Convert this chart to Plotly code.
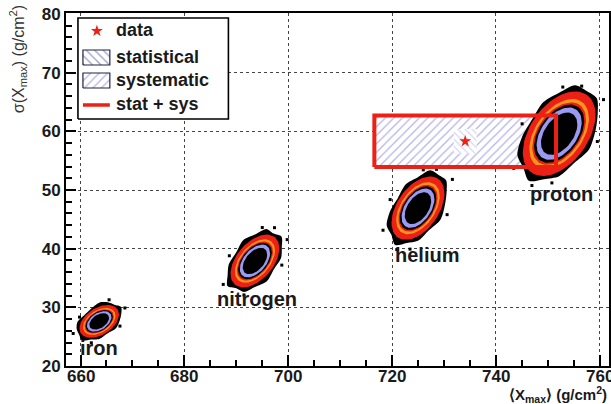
import numpy as np
import plotly.graph_objects as go

# ---- composition clouds: mean Xmax, sigma(Xmax), spreads and correlation ----
species = ["iron", "nitrogen", "helium", "proton"]
mean_xmax = [663.6, 693.6, 725.0, 752.2]
sigma_xmax = [27.6, 37.9, 46.9, 59.6]
spread_x = [3.8, 4.7, 5.1, 7.0]
spread_y = [2.8, 4.5, 5.4, 7.2]
corr = [0.42, 0.48, 0.46, 0.44]

# outline of the simulated-event scatter around each cloud (relative radius per direction)
halo_radius = [
    [1.12, 1.2, 1.08, 1.16, 1.26, 1.12, 1.08, 1.2, 1.14, 1.1, 1.24, 1.1, 1.18, 1.08, 1.2, 1.12],
    [1.1, 1.18, 1.08, 1.22, 1.14, 1.26, 1.1, 1.16, 1.12, 1.22, 1.08, 1.18, 1.12, 1.24, 1.1, 1.16],
    [1.08, 1.15, 1.1, 1.2, 1.1, 1.18, 1.07, 1.14, 1.18, 1.09, 1.22, 1.1, 1.16, 1.08, 1.2, 1.1],
    [1.06, 1.12, 1.07, 1.15, 1.08, 1.13, 1.05, 1.1, 1.15, 1.07, 1.18, 1.08, 1.12, 1.06, 1.16, 1.08],
]
# isolated events outside the dense region (u, v in cloud units)
stray_u = [
    [1.3, -1.32, 0.5, -0.4, 1.05, -1.0],
    [1.32, -1.3, 0.3, -0.45, 1.1, -1.05, 0.8],
    [1.3, -1.32, 0.2, -0.3, 1.1, -1.05, 0.7, -0.8],
    [1.22, -1.25, 0.1, -0.2, 1.05, -1.02, 0.62, -0.75],
]
stray_v = [
    [0.3, -0.2, 1.22, -1.25, -0.8, 0.75],
    [0.2, -0.3, 1.28, -1.22, -0.78, 0.8, 1.0],
    [0.35, -0.1, 1.26, -1.3, -0.8, 0.85, 1.02, -1.06],
    [0.3, -0.3, 1.18, -1.2, -0.72, 0.76, 0.95, -1.0],
]

# ---- measurement ----
data_x, data_y = 734.1, 58.3
stat_x, stat_y = 2.2, 2.1
sys_x, sys_y = 17.5, 4.4

x_range = [657.2, 761.8]
y_range = [20.0, 80.17]
x_ticks = [660, 680, 700, 720, 740, 760]

RED = "#ec2014"
ORANGE = "#f7961c"
LAVENDER = "#9a9af2"
FONT = "Liberation Sans"


def outline(cx, cy, sx, sy, rho, k, n=72, radii=None):
    t = np.linspace(0, 2 * np.pi, n + 1)
    if radii is not None:
        r = np.array(radii + radii[:1])
        t = np.linspace(0, 2 * np.pi, len(r))
        k = k * r
    c = np.sqrt(1 - rho ** 2)
    u, v = np.cos(t), np.sin(t)
    return cx + k * sx * u, cy + k * sy * (rho * u + c * v)


fig = go.Figure()


def poly(x, y, color, line=None, **kw):
    fig.add_trace(go.Scatter(
        x=x, y=y, mode="lines", fill="toself", fillcolor=color,
        line=line or dict(width=0, color=color), hoverinfo="skip", showlegend=False, **kw))


# systematic and statistical regions (hatched)
poly([data_x - sys_x, data_x + sys_x, data_x + sys_x, data_x - sys_x, data_x - sys_x],
     [data_y - sys_y, data_y - sys_y, data_y + sys_y, data_y + sys_y, data_y - sys_y],
     "white", fillpattern=dict(shape="/", fgcolor="#6464d2", bgcolor="white", size=6, solidity=0.2))
poly([data_x - stat_x, data_x + stat_x, data_x + stat_x, data_x - stat_x, data_x - stat_x],
     [data_y - stat_y, data_y - stat_y, data_y + stat_y, data_y + stat_y, data_y - stat_y],
     "white", fillpattern=dict(shape="\\", fgcolor="#a8a8e6", bgcolor="white", size=5, solidity=0.22))

# composition clouds
layers = [(1.0, RED), (0.82, ORANGE), (0.74, RED), (0.69, "black"), (0.62, LAVENDER), (0.5, "black")]
for i in range(len(species)):
    cx, cy, sx, sy, rho = mean_xmax[i], sigma_xmax[i], spread_x[i], spread_y[i], corr[i]
    hx, hy = outline(cx, cy, sx, sy, rho, 1.0, radii=halo_radius[i])
    poly(hx, hy, "black", line=dict(width=0, color="black", shape="spline", smoothing=0.8))
    c = np.sqrt(1 - rho ** 2)
    su, sv = np.array(stray_u[i]), np.array(stray_v[i])
    fig.add_trace(go.Scatter(
        x=cx + sx * su, y=cy + sy * (rho * su + c * sv), mode="markers",
        marker=dict(symbol="square", size=3, color="black"), hoverinfo="skip", showlegend=False))
    for k, col in layers:
        ex, ey = outline(cx, cy, sx, sy, rho, k)
        poly(ex, ey, col)

# stat + sys outline
fig.add_trace(go.Scatter(
    x=[data_x - sys_x, data_x + sys_x, data_x + sys_x, data_x - sys_x, data_x - sys_x],
    y=[data_y - sys_y, data_y - sys_y, data_y + sys_y, data_y + sys_y, data_y - sys_y],
    mode="lines", line=dict(color=RED, width=4), hoverinfo="skip", showlegend=False))

# data point
fig.add_trace(go.Scatter(x=[data_x], y=[data_y], mode="markers",
                         marker=dict(symbol="star", size=9, color=RED), showlegend=False))


# ---- legend box (pixel positions mapped onto the axes) ----
def xd(px):
    return x_range[0] + (px - 66) / 5.21


def yd(py):
    return 80 - (py - 14) / 5.867


lx0, lx1, ly0, ly1 = xd(78), xd(229), yd(119), yd(18)
poly([lx0, lx1, lx1, lx0, lx0], [ly0, ly0, ly1, ly1, ly0], "white",
     line=dict(color="black", width=1.6))
bx0, bx1 = xd(83), xd(110)
s0, s1 = yd(65), yd(50)
poly([bx0, bx1, bx1, bx0, bx0], [s0, s0, s1, s1, s0], "white",
     line=dict(color="#222244", width=1.2),
     fillpattern=dict(shape="\\", fgcolor="#333388", bgcolor="white", size=6, solidity=0.2))
s0, s1 = yd(88), yd(73)
poly([bx0, bx1, bx1, bx0, bx0], [s0, s0, s1, s1, s0], "white",
     line=dict(color="#222244", width=1.2),
     fillpattern=dict(shape="/", fgcolor="#6464d2", bgcolor="white", size=6, solidity=0.2))
fig.add_trace(go.Scatter(x=[bx0, bx1], y=[yd(105), yd(105)], mode="lines",
                         line=dict(color=RED, width=3.5), hoverinfo="skip", showlegend=False))
fig.add_trace(go.Scatter(x=[xd(97)], y=[yd(31)], mode="markers",
                         marker=dict(symbol="star", size=9, color=RED), showlegend=False))

legend_labels = ["data", "statistical", "systematic", "stat + sys"]
legend_rows = [30, 57, 80, 104]
annotations = []
for lab, py in zip(legend_labels, legend_rows):
    annotations.append(dict(x=xd(114), y=yd(py), text="<b>%s</b>" % lab, showarrow=False, xanchor="left",
                            yanchor="middle", font=dict(family=FONT, size=18, color="#1a1a1a")))

# composition labels
label_pos = [(99, 348), (258, 299), (428, 255), (563, 194)]
for name, (px, py) in zip(species, label_pos):
    annotations.append(dict(x=xd(px), y=yd(py), text="<b>%s</b>" % name, showarrow=False, xanchor="center",
                            yanchor="middle", font=dict(family=FONT, size=20, color="#1a1a1a")))

# x tick labels (drawn as text so the last one runs off the page edge)
for v in x_ticks:
    annotations.append(dict(x=v, xref="x", yref="paper", y=-10 / 353, text="<b>%d</b>" % v,
                            showarrow=False, xanchor="center", yanchor="middle",
                            font=dict(family=FONT, size=17, color="#1a1a1a")))

# axis titles
annotations.append(dict(xref="paper", yref="paper", x=1.0, y=(366 - 394) / 353,
                        text="<b>⟨X<sub>max</sub>⟩ (g/cm<sup>2</sup>)</b>", showarrow=False,
                        xanchor="right", yanchor="middle",
                        font=dict(family=FONT, size=15, color="#1a1a1a")))
annotations.append(dict(xref="paper", yref="paper", x=(18 - 66) / 545, y=(366 - 3) / 353,
                        text="σ(X<sub>max</sub>) (g/cm<sup>2</sup>)", showarrow=False, textangle=-90,
                        xanchor="center", yanchor="top",
                        font=dict(family=FONT, size=16, color="#333333")))

axis_common = dict(
    showgrid=True, gridcolor="#444444", griddash="dot", gridwidth=1,
    ticks="inside", tickcolor="black", tickwidth=1.5,
    showline=True, linecolor="black", linewidth=2, mirror=True, zeroline=False,
    tickfont=dict(family=FONT, size=17, color="#1a1a1a", weight="bold"),
)
fig.update_layout(
    width=611, height=404,
    margin=dict(l=66, r=0, t=13, b=38),
    paper_bgcolor="white", plot_bgcolor="white",
    xaxis=dict(range=x_range, tick0=660, dtick=20, ticklen=11, showticklabels=False,
               minor=dict(dtick=5, tick0=660, ticks="inside", ticklen=6, tickcolor="black", showgrid=False),
               **axis_common),
    yaxis=dict(range=y_range, tick0=20, dtick=10, ticklen=10,
               minor=dict(dtick=2, tick0=20, ticks="inside", ticklen=6, tickcolor="black", showgrid=False),
               **axis_common),
    annotations=annotations,
    showlegend=False,
)

fig.write_html("out.html")
